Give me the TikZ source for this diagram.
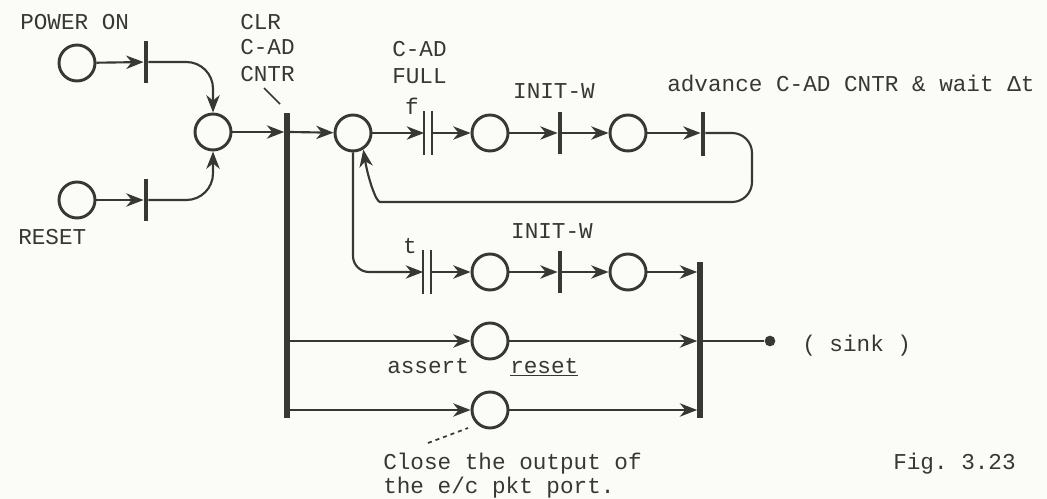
\documentclass[tikz,border=0pt]{standalone}
\usepackage{fontspec}
\setmonofont{Liberation Mono}
\usetikzlibrary{arrows.meta}
\definecolor{ink}{RGB}{55,55,52}
\definecolor{paper}{RGB}{251,251,247}
\begin{document}
\begin{tikzpicture}[x=0.75pt,y=-0.75pt,
  place/.style={circle,draw=ink,line width=2.2pt,minimum size=27pt,inner sep=0pt},
  bar/.style={rectangle,fill=ink,inner sep=0pt,minimum width=3.2pt},
  dbar/.style={rectangle,inner sep=0pt,minimum width=5.5pt},
  dline/.style={draw=ink,line width=1.8pt},
  arc/.style={draw=ink,line width=1.6pt,-{Stealth[length=13pt,width=10pt,inset=4pt]}},
  plain/.style={draw=ink,line width=1.6pt},
  lbl/.style={anchor=west,inner sep=0pt,text=ink,font=\ttfamily\fontsize{17}{20}\selectfont,text height=9.7pt,text depth=0pt},
  clbl/.style={lbl,anchor=center},
]
\fill[paper] (0,0) rectangle (1047,499);
\useasboundingbox (0,0) rectangle (1047,499);

% places
\node[place] (P1) at (77,63) {};
\node[place] (P2) at (77,200) {};
\node[place] (P3) at (213,132) {};
\node[place] (P4) at (353,133) {};
\node[place] (P5) at (490,133) {};
\node[place] (P6) at (628,133) {};
\node[place] (P7) at (490,272) {};
\node[place] (P8) at (628,272) {};
\node[place] (P9) at (490,341) {};
\node[place] (P10) at (490,410) {};
\node[circle,fill=ink,minimum size=8pt,inner sep=0pt] (sink) at (770,341) {};

% transitions
\node[bar,minimum height=32pt] (T1) at (146,62) {};
\node[bar,minimum height=32pt] (T2) at (146,200) {};
\node[bar,minimum height=229pt,minimum width=3.8pt] (LB) at (287,265.5) {};
\node[dbar,minimum height=32pt] (TF) at (428,133) {};
\draw[dline] (TF.north west) -- (TF.south west) (TF.north east) -- (TF.south east);
\node[bar,minimum height=32pt] (T3) at (560,133) {};
\node[bar,minimum height=33pt] (T4) at (703,134) {};
\node[dbar,minimum height=32pt] (TT) at (427,272) {};
\draw[dline] (TT.north west) -- (TT.south west) (TT.north east) -- (TT.south east);
\node[bar,minimum height=32pt] (T5) at (560,272) {};
\node[bar,minimum height=117pt,minimum width=3.8pt] (RB) at (700,340) {};

% connectors
\draw[arc] (P1) -- (T1);
\draw[arc] (P2) -- (T2);
\draw[arc,rounded corners=20] (T1) -| (P3);
\draw[arc,rounded corners=20] (T2) -| (P3);
\draw[arc] (P3) -- (P3 -| LB.west);
\draw[arc] (P3 -| LB.east) -- (P4);
\draw[arc] (P4) -- (TF);
\draw[arc] (TF) -- (P5);
\draw[arc] (P5) -- (T3);
\draw[arc] (T3) -- (P6);
\draw[arc] (P6) -- (P6 -| T4.west);
\coordinate (L1) at (752,133);
\coordinate (L2) at (752,202);
\coordinate (L3) at (400,202);
\draw[arc,rounded corners=15] (P6 -| T4.east) -- (L1) -- (L2) -- (L3) .. controls (376,202) and (368,178) .. (P4.-58);
\draw[arc,rounded corners=12] (P4) |- (TT);
\draw[arc] (TT) -- (P7);
\draw[arc] (P7) -- (T5);
\draw[arc] (T5) -- (P8);
\draw[arc] (P8) -- (P8 -| RB.west);
\draw[arc] (LB.east |- P9) -- (P9);
\draw[arc] (P9) -- (P9 -| RB.west);
\draw[plain] (P9 -| RB.east) -- (sink);
\draw[arc] (LB.east |- P10) -- (P10);
\draw[arc] (P10) -- (P10 -| RB.west);

% labels
\node[lbl] (lpow) at (20,23) {POWER ON};
\node[lbl] (lres) at (18,238) {RESET};
\node[lbl] (lclr) at (240,23) {CLR};
\node[lbl] (lcad) at (240,48) {C-AD};
\node[lbl] (lcntr) at (240,75) {CNTR};
\coordinate (s1) at (264,88);
\coordinate (s2) at (280,104);
\draw[ink,line width=1.3pt] (s1) -- (s2);
\node[lbl] (lcad2) at (392,50) {C-AD};
\node[lbl] (lfull) at (392,77) {FULL};
\node[clbl] (lf) at (412,108) {f};
\node[clbl] (linit1) at (554,92) {INIT-W};
\node[lbl] (ladv) at (667,85) {advance C-AD CNTR \& wait Δt};
\node[clbl] (lt) at (410,247) {t};
\node[clbl] (linit2) at (552,232) {INIT-W};
\node[lbl] (lassert) at (387,367) {assert};
\node[lbl] (lreset) at (510,367) {\underline{reset}};
\node[lbl] (lsink) at (802,345) {( sink )};
\node[lbl] (lclose1) at (383,463) {Close the output of};
\node[lbl] (lclose2) at (383,487) {the e/c pkt port.};
\node[lbl] (lfig) at (893,463) {Fig. 3.23};
\coordinate (d1) at (428,443);
\coordinate (d2) at (468,428);
\draw[ink,line width=1.3pt,dashed] (d1) -- (d2);
\end{tikzpicture}
\end{document}
